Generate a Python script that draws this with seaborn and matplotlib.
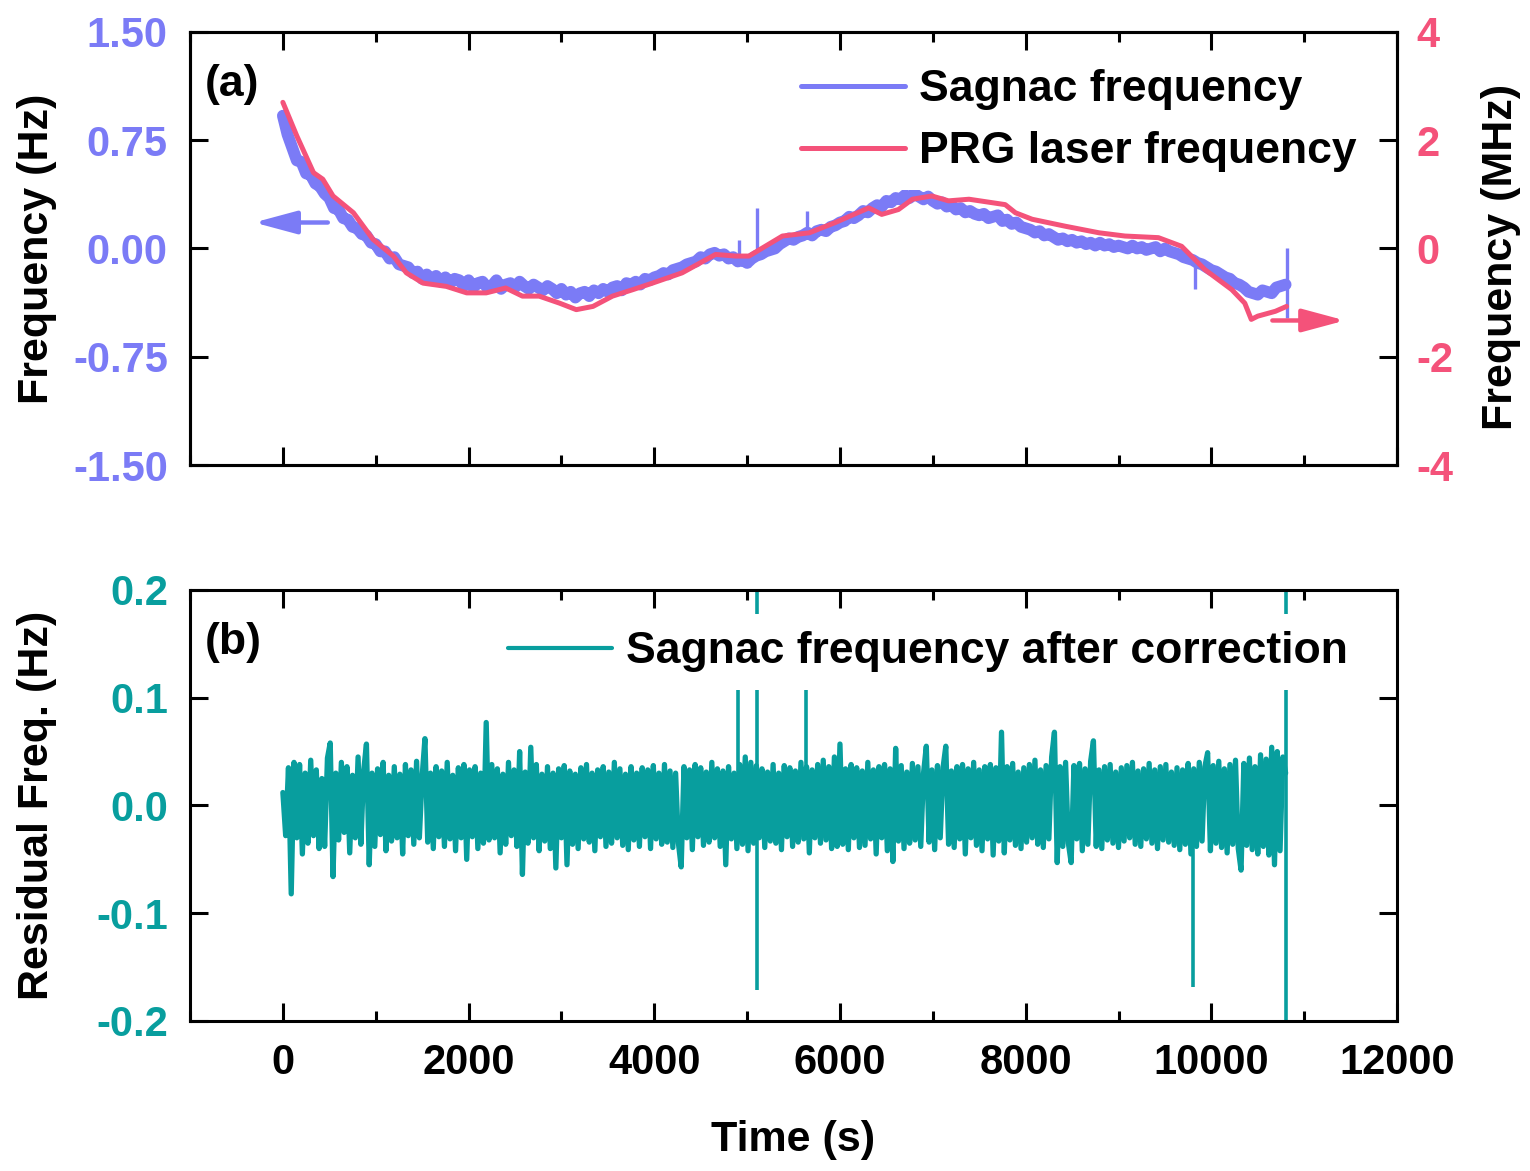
import numpy as np
import pandas as pd
import matplotlib
matplotlib.use('Agg')
import matplotlib.pyplot as plt
from matplotlib.ticker import MultipleLocator, FormatStrFormatter
import seaborn as sns

# ---- data ----
# Sagnac frequency, one value every 50 s from 0 to 10800 s, unit 0.01 Hz
sagnac_cHz = [92, 79, 70, 61, 60, 52, 51, 45, 43, 38, 35, 28, 27, 21, 20, 15, 14, 10, 9, 4,
              3, -2, -2, -7, -6, -11, -12, -13, -17, -16, -21, -18, -22, -19, -23, -20, -24, -21, -22, -26,
              -22, -27, -24, -23, -27, -26, -22, -28, -25, -24, -27, -23, -26, -28, -25, -27, -29, -26, -28, -31,
              -28, -32, -30, -34, -31, -30, -33, -29, -31, -28, -30, -27, -26, -29, -24, -25, -23, -25, -21, -22,
              -20, -19, -17, -18, -15, -14, -13, -11, -10, -9, -6, -7, -4, -3, -5, -4, -7, -6, -9, -8,
              -10, -7, -5, -4, -2, -1, 0, 3, 5, 7, 6, 8, 9, 11, 9, 12, 13, 12, 15, 16,
              18, 19, 22, 21, 23, 26, 25, 28, 30, 29, 33, 32, 35, 34, 37, 35, 38, 36, 34, 36,
              33, 31, 32, 29, 30, 27, 28, 25, 26, 24, 23, 24, 21, 22, 23, 19, 20, 17, 18, 15,
              14, 13, 11, 12, 9, 10, 8, 6, 7, 5, 6, 4, 5, 3, 4, 2, 4, 2, 3, 1,
              2, 1, 0, 2, 0, 1, -1, 0, 1, -2, 0, -2, -3, -4, -6, -7, -8, -10, -11, -13,
              -15, -16, -18, -20, -21, -24, -25, -27, -30, -31, -32, -29, -30, -31, -27, -26, -25]

# glitches in the Sagnac trace (Hz)
sag_spike_t = [4910, 5020, 5110, 5640, 9820, 10820]
sag_spike_lo = [-0.05, -0.13, -0.04, 0.09, -0.28, -0.48]
sag_spike_hi = [0.06, -0.04, 0.28, 0.26, -0.08, 0.00]

# PRG laser frequency (MHz)
prg_time = [0, 150, 330, 430, 540, 760, 970, 1190, 1330, 1510, 1760, 1980, 2190, 2400,
            2580, 2760, 2980, 3160, 3340, 3550, 3770, 3980, 4300, 4660, 4880, 5020, 5380,
            5670, 5950, 6310, 6450, 6630, 6780, 6990, 7170, 7390, 7780, 7890, 8070, 8430,
            8790, 9070, 9430, 9680, 9930, 10220, 10360, 10430, 10500, 10690, 10810]
prg_mhz = [2.70, 2.08, 1.40, 1.28, 0.97, 0.66, 0.17, -0.14, -0.45, -0.64, -0.70, -0.82, -0.82, -0.73,
           -0.88, -0.88, -1.01, -1.13, -1.07, -0.88, -0.76, -0.64, -0.45, -0.11, -0.14, -0.14, 0.23,
           0.29, 0.48, 0.75, 0.63, 0.72, 0.91, 0.97, 0.88, 0.91, 0.81, 0.66, 0.54, 0.41,
           0.29, 0.23, 0.20, 0.04, -0.39, -0.76, -1.01, -1.31, -1.25, -1.16, -1.07]

# residual after correction, one value every 30 s from 0 to 10800 s, unit mHz
resid_mHz = [12, -28, 35, -82, 40, -30, 38, -45, 30, -35, 42, -28, 33, -40, 25, -38, 44, 58, -66, 30,
             -32, 40, -25, 36, -44, 28, -30, 45, -36, 32, 57, -55, 30, -38, 34, -27, 40, -42, 28, -33,
             36, -30, 29, -45, 38, -28, 33, -36, 41, -30, 27, 62, -34, 30, -40, 36, -29, 32, -38, 40,
             -31, 28, -42, 35, -30, 38, -50, 33, -29, 36, -40, 30, -35, 77, -32, 38, -30, 34, -44, 29,
             -36, 40, -28, 33, -38, 50, -64, 31, -35, 54, -30, 38, -42, 29, -33, 36, -40, 30, -58, 34,
             -30, 37, -55, 32, -36, 29, -40, 35, -31, 38, -34, 30, -42, 33, -29, 36, -38, 31, -35, 40,
             -30, 34, -37, 29, -41, 36, -32, 30, -38, 35, -29, 33, -40, 37, -31, 30, -36, 38, -34, 32,
             -39, 30, -35, -57, 36, -30, 33, -41, 38, -29, 35, -37, 31, -34, 40, -30, 34, -38, 32, -55,
             36, -31, 30, -40, 38, -36, 45, -42, 40, -35, 37, -30, 34, -39, 31, -33, 38, -35, 30, -41,
             37, -29, 35, -38, 32, -34, 40, -31, 36, -44, 33, -30, 38, -35, 42, -32, 36, -40, 45, -38,
             57, -36, 34, -41, 38, -30, 35, -39, 32, -37, 40, -31, 33, -45, 36, -30, 38, -42, 34, -52,
             53, -33, 37, -40, 31, -35, 39, -32, 36, -38, 30, 55, -34, 33, -41, 37, -30, 35, 55, -36,
             32, -39, 36, -31, 38, -45, 34, -30, 40, -37, 33, -42, 36, -31, 38, -46, 35, -33, 68, -44,
             36, -32, 39, -37, 31, -40, 35, -34, 38, -30, 42, -36, 33, -39, 37, -31, 45, 68, -53, 36,
             -38, 40, -35, -53, 37, -31, 39, -42, 34, -36, 41, 60, -38, 33, -40, 36, -32, 38, -35, 31,
             -39, 35, -33, 37, -30, 40, -36, 32, -38, 34, -31, 39, -35, 33, -40, 36, -32, 38, -34, 31,
             -37, 35, -41, 33, -36, 39, -45, 34, -38, 40, -33, 36, 49, -42, 37, -35, 41, -39, 34, -44,
             38, -36, 42, -40, -60, 39, -37, 44, -41, 36, -45, 47, -38, 43, -46, 54, -55, 50, -42, 45,
             30]

# glitches in the residual (Hz)
res_spike_t = [4900, 5110, 5630, 9806, 10800]
res_spike_lo = [0.0, -0.171, 0.0, -0.168, -0.25]
res_spike_hi = [0.113, 0.25, 0.114, 0.0, 0.25]

# ---- styling ----
blue = '#7b7bf6'
pink = '#f4527a'
teal = '#089e9e'

sns.set_style('ticks')
plt.rcParams['font.family'] = ['Liberation Sans', 'DejaVu Sans']
plt.rcParams['font.weight'] = 'bold'
plt.rcParams['axes.labelweight'] = 'bold'
plt.rcParams['axes.unicode_minus'] = False
plt.rcParams['text.color'] = 'black'
plt.rcParams['axes.labelcolor'] = 'black'
plt.rcParams['xtick.color'] = 'black'
plt.rcParams['ytick.color'] = 'black'

fs_tick = 30
fs_text = 31
fs_leg = 32

sag_df = pd.DataFrame({'t': np.linspace(0, 10800, len(sagnac_cHz)),
                       'f': np.array(sagnac_cHz) / 100.0})
prg_df = pd.DataFrame({'t': prg_time, 'f': prg_mhz})
res_df = pd.DataFrame({'t': np.linspace(0, 10800, len(resid_mHz)),
                       'f': np.array(resid_mHz) / 1000.0})

fig = plt.figure(figsize=(15.3, 11.71), dpi=100)
ax1 = fig.add_axes([0.1242, 0.6029, 0.7889, 0.3698])
ax2 = fig.add_axes([0.1242, 0.1281, 0.7889, 0.3681])
ax1r = ax1.twinx()

# panel (a)
sns.lineplot(data=sag_df, x='t', y='f', ax=ax1, color=blue, linewidth=8.5, label='Sagnac frequency')
ax1.vlines(sag_spike_t, sag_spike_lo, sag_spike_hi, color=blue, lw=2.4)
sns.lineplot(data=prg_df, x='t', y='f', ax=ax1r, color=pink, linewidth=3.6, label='PRG laser frequency')

ax1.annotate('', xy=(-310, 0.18), xytext=(484, 0.18),
             arrowprops=dict(arrowstyle='-|>,head_length=1.3,head_width=0.35',
                             color=blue, lw=3.2, mutation_scale=20, shrinkA=0, shrinkB=0))
ax1r.annotate('', xy=(11440, -1.33), xytext=(10657, -1.33),
              arrowprops=dict(arrowstyle='-|>,head_length=1.3,head_width=0.35',
                              color=pink, lw=3.2, mutation_scale=20, shrinkA=0, shrinkB=0))

# panel (b)
sns.lineplot(data=res_df, x='t', y='f', ax=ax2, color=teal, linewidth=3.8,
             label='Sagnac frequency after correction')
ax2.vlines(res_spike_t, res_spike_lo, res_spike_hi, color=teal, lw=2.6)

# axes limits / ticks
for ax in (ax1, ax2):
    ax.set_xlim(-1000, 12000)
    ax.xaxis.set_major_locator(MultipleLocator(2000))
    ax.xaxis.set_minor_locator(MultipleLocator(1000))
    ax.tick_params(axis='x', which='both', direction='in', top=True, bottom=True, width=2.2)
    ax.tick_params(axis='x', which='major', length=13)
    ax.tick_params(axis='x', which='minor', length=7)

ax1.set_ylim(-1.5, 1.5)
ax1.set_yticks([-1.5, -0.75, 0, 0.75, 1.5])
ax1.yaxis.set_major_formatter(FormatStrFormatter('%.2f'))
ax1.tick_params(axis='x', labelbottom=False)
ax1.tick_params(axis='y', direction='in', left=True, right=False, length=13, width=2.2,
                labelsize=fs_tick, labelcolor=blue, pad=16)

ax1r.set_ylim(-4, 4)
ax1r.set_yticks([-4, -2, 0, 2, 4])
ax1r.tick_params(axis='y', direction='in', right=True, length=13, width=2.2,
                 labelsize=fs_tick, labelcolor=pink, pad=14)

ax2.set_ylim(-0.2, 0.2)
ax2.set_yticks([-0.2, -0.1, 0, 0.1, 0.2])
ax2.yaxis.set_major_formatter(FormatStrFormatter('%.1f'))
ax2.tick_params(axis='y', direction='in', left=True, right=True, length=13, width=2.2,
                labelsize=fs_tick, labelcolor=teal, pad=16)
ax2.tick_params(axis='x', labelsize=fs_tick, pad=16)

for ax in (ax1, ax1r, ax2):
    for sp in ax.spines.values():
        sp.set_linewidth(2.2)
        sp.set_color('black')
        sp.set_visible(True)

# labels
ax1.set_xlabel('')
ax1r.set_xlabel('')
ax1.set_ylabel('Frequency (Hz)', fontsize=fs_text)
ax1r.set_ylabel('Frequency (MHz)', fontsize=fs_text)
ax2.set_ylabel('Residual Freq. (Hz)', fontsize=fs_text)
ax2.set_xlabel('Time (s)', fontsize=fs_text)
for lab in (ax1.yaxis.label, ax1r.yaxis.label, ax2.yaxis.label, ax2.xaxis.label):
    lab.set_verticalalignment('center')
    lab.set_horizontalalignment('center')
ax1.yaxis.set_label_coords(-0.127, 0.5)
ax1r.yaxis.set_label_coords(1.086, 0.48)
ax2.yaxis.set_label_coords(-0.127, 0.5)
ax2.xaxis.set_label_coords(0.4996, -0.276)

ax1.text(0.012, 0.878, '(a)', transform=ax1.transAxes, fontsize=fs_leg,
         fontweight='bold', ha='left', va='center')
ax2.text(0.012, 0.878, '(b)', transform=ax2.transAxes, fontsize=fs_leg,
         fontweight='bold', ha='left', va='center')

# legends (handles are the plotted lines, so thin only the legend copies)
ax1.get_legend().remove()
h1, l1 = ax1.get_legend_handles_labels()
h2, l2 = ax1r.get_legend_handles_labels()
leg1 = ax1r.legend(h1 + h2, l1 + l2, loc='upper left', bbox_to_anchor=(0.4913, 0.955),
                   fontsize=fs_leg, frameon=True, fancybox=False, framealpha=1,
                   edgecolor='none', facecolor='white', borderpad=0.4, borderaxespad=0,
                   handlelength=2.35, handletextpad=0.3, labelspacing=0.47)
leg1.get_lines()[0].set_linewidth(3.6)
leg2 = ax2.legend(loc='upper left', bbox_to_anchor=(0.2486, 0.945),
                  fontsize=fs_leg, frameon=True, fancybox=False, framealpha=1,
                  edgecolor='none', facecolor='white', borderpad=0.4, borderaxespad=0,
                  handlelength=2.35, handletextpad=0.3)
leg2.get_lines()[0].set_linewidth(3)

fig.savefig('out.png', dpi=100)
